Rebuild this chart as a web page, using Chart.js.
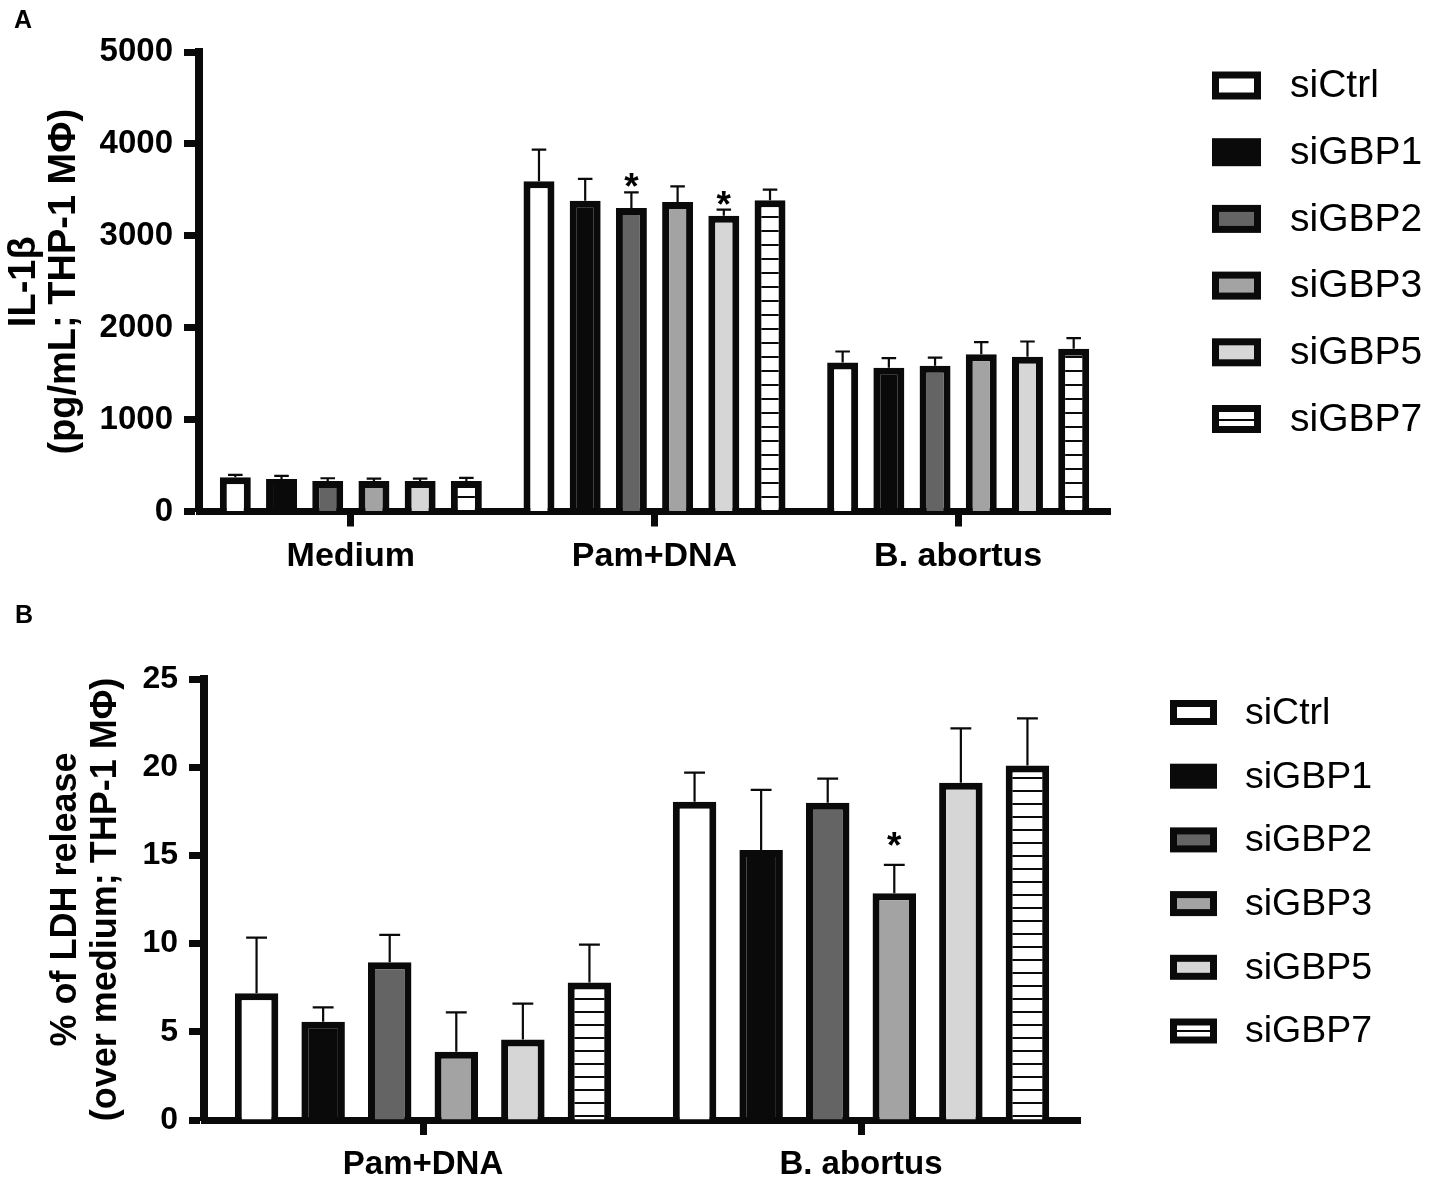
<!DOCTYPE html>
<html>
<head>
<meta charset="utf-8">
<title>IL-1β and LDH release</title>
<script src="https://cdn.jsdelivr.net/npm/chart.js@4.4.0/dist/chart.umd.min.js"></script>
<style>
  body { margin: 0; background: #fff; }
  .panel { position: absolute; left: 0; width: 1429px; }
  .tag { position: absolute; font: bold 25px 'Liberation Sans', Arial, sans-serif; color: #000; z-index: 2; }
</style>
</head>
<body>
<div class="panel" style="top:0;height:590px"><canvas id="chartA" width="1429" height="590"></canvas></div>
<div class="panel" style="top:590px;height:587px"><canvas id="chartB" width="1429" height="587"></canvas></div>
<div class="tag" style="left:14px;top:5px">A</div>
<div class="tag" style="left:15px;top:600px">B</div>
<script>
const seriesNames = ['siCtrl', 'siGBP1', 'siGBP2', 'siGBP3', 'siGBP5', 'siGBP7'];

// panel A - IL-1b (pg/mL)
const categoriesA = ['Medium', 'Pam+DNA', 'B. abortus'];
const ticksA = [0, 1000, 2000, 3000, 4000, 5000];
const ctrlA = [373, 3593, 1621];
const gbp1A = [354, 3382, 1563];
const gbp2A = [332, 3303, 1585];
const gbp3A = [332, 3368, 1712];
const gbp5A = [332, 3219, 1683];
const gbp7A = [332, 3386, 1770];
const ctrlErrA = [25, 345, 120];
const gbp1ErrA = [33, 237, 106];
const gbp2ErrA = [30, 170, 90];
const gbp3ErrA = [25, 170, 131];
const gbp5ErrA = [25, 65, 167];
const gbp7ErrA = [33, 116, 117];
const starsA = [[1, 2], [1, 4]]; // [category, series]

// panel B - % LDH release
const categoriesB = ['Pam+DNA', 'B. abortus'];
const ticksB = [0, 5, 10, 15, 20, 25];
const ctrlB = [7.18, 18.04];
const gbp1B = [5.57, 15.31];
const gbp2B = [8.94, 17.99];
const gbp3B = [3.87, 12.85];
const gbp5B = [4.57, 19.12];
const gbp7B = [7.8, 20.09];
const ctrlErrB = [3.16, 1.65];
const gbp1ErrB = [0.82, 3.4];
const gbp2ErrB = [1.56, 1.36];
const gbp3ErrB = [2.23, 1.61];
const gbp5ErrB = [2.03, 3.08];
const gbp7ErrB = [2.14, 2.68];
const starsB = [[1, 3]];

const ink = '#0a0a0a';
const fills = ['#ffffff', '#0a0a0a', '#646464', '#a3a3a3', '#d6d6d6', null];
Chart.defaults.font.family = "'Liberation Sans', Arial, sans-serif";
Chart.defaults.color = '#000';

function makeStripes(period) {
  const c = document.createElement('canvas');
  c.width = 8;
  c.height = period;
  const g = c.getContext('2d');
  g.fillStyle = '#fff';
  g.fillRect(0, 0, 8, period);
  g.fillStyle = ink;
  g.fillRect(0, Math.floor(period / 2) - 1, 8, 2);
  return g.createPattern(c, 'repeat');
}

function buildSets(values, errors, stripes) {
  return seriesNames.map((name, i) => ({
    label: name,
    data: values[i],
    errors: errors[i],
    backgroundColor: i === 5 ? stripes : fills[i],
    borderColor: ink,
    borderWidth: 7,
    borderSkipped: 'start'
  }));
}

// error bars, asterisks and the legend
const extras = {
  id: 'extras',
  afterDatasetsDraw(chart, args, opts) {
    const {ctx} = chart;
    const y = chart.scales.y;
    ctx.save();
    ctx.strokeStyle = ink;
    ctx.lineWidth = opts.errWidth;
    chart.data.datasets.forEach((ds, i) => {
      chart.getDatasetMeta(i).data.forEach((bar, j) => {
        const top = y.getPixelForValue(ds.data[j] + ds.errors[j]);
        const half = bar.width * opts.capRatio / 2;
        ctx.beginPath();
        ctx.moveTo(bar.x, bar.y);
        ctx.lineTo(bar.x, top);
        ctx.moveTo(bar.x - half, top);
        ctx.lineTo(bar.x + half, top);
        ctx.stroke();
      });
    });
    ctx.fillStyle = '#000';
    ctx.font = 'bold 37px "Liberation Sans", Arial, sans-serif';
    ctx.textAlign = 'center';
    ctx.textBaseline = 'alphabetic';
    opts.stars.forEach(([c, s]) => {
      const ds = chart.data.datasets[s];
      const bar = chart.getDatasetMeta(s).data[c];
      const top = y.getPixelForValue(ds.data[c] + ds.errors[c]);
      ctx.fillText('*', bar.x, top - opts.starGap + 21);
    });
    ctx.restore();
  },
  afterDraw(chart, args, opts) {
    const {ctx} = chart;
    const lg = opts.legend;
    ctx.save();
    ctx.font = lg.size + 'px "Liberation Sans", Arial, sans-serif';
    ctx.textBaseline = 'middle';
    ctx.textAlign = 'left';
    chart.data.datasets.forEach((ds, i) => {
      const cy = lg.y + i * lg.step;
      const top = cy - lg.boxH / 2;
      ctx.fillStyle = ink;
      ctx.fillRect(lg.x, top, lg.boxW, lg.boxH);
      const fill = ds.backgroundColor;
      if (fill instanceof CanvasPattern) {
        fill.setTransform(new DOMMatrix([1, 0, 0, 1, 0, Math.round(cy) - 6]));
      }
      ctx.fillStyle = fill;
      ctx.fillRect(lg.x + lg.border, top + lg.border, lg.boxW - 2 * lg.border, lg.boxH - 2 * lg.border);
      if (fill instanceof CanvasPattern) fill.setTransform(new DOMMatrix());
      ctx.fillStyle = '#000';
      ctx.fillText(ds.label, lg.x + lg.boxW + lg.gap, cy + 1);
    });
    ctx.restore();
  }
};

function axisOptions(o) {
  return {
    x: {
      z: 1,
      grid: {drawOnChartArea: false, offset: false, tickLength: 15, tickWidth: 7, tickColor: ink},
      border: {width: 7, color: ink},
      ticks: {font: {size: o.xFont, weight: 'bold'}, padding: 10, maxRotation: 0},
      afterFit: s => { s.height = o.xHeight; }
    },
    y: {
      min: o.ticks[0],
      max: o.ticks[o.ticks.length - 1],
      afterBuildTicks: s => { s.ticks = o.ticks.map(v => ({value: v})); },
      grid: {drawOnChartArea: false, tickLength: 15, tickWidth: 7, tickColor: ink},
      border: {width: 8, color: ink},
      ticks: {font: {size: o.yFont, weight: 'bold'}, padding: 11, callback: v => String(v)},
      title: {
        display: true,
        text: o.title,
        font: {size: o.titleFont, weight: 'bold', lineHeight: '40px'},
        padding: 0
      },
      afterFit: s => { s.width = o.yWidth; }
    }
  };
}

const chartA = new Chart(document.getElementById('chartA').getContext('2d'), {
  type: 'bar',
  data: {
    labels: categoriesA,
    datasets: buildSets([ctrlA, gbp1A, gbp2A, gbp3A, gbp5A, gbp7A],
      [ctrlErrA, gbp1ErrA, gbp2ErrA, gbp3ErrA, gbp5ErrA, gbp7ErrA], makeStripes(14))
  },
  options: {
    responsive: false,
    animation: false,
    devicePixelRatio: 1,
    layout: {padding: {left: 5, top: 52, right: 319, bottom: 0}},
    datasets: {bar: {categoryPercentage: 0.913, barPercentage: 0.67}},
    scales: axisOptions({
      ticks: ticksA, xFont: 34, yFont: 33, xHeight: 78.5, yWidth: 194,
      title: ['IL-1β', '(pg/mL; THP-1 MΦ)'], titleFont: 38
    }),
    plugins: {
      legend: {display: false},
      tooltip: {enabled: false},
      extras: {
        errWidth: 2.2, capRatio: 0.47, stars: starsA, starGap: 14,
        legend: {x: 1212, y: 85.5, step: 66.7, boxW: 49, boxH: 28, border: 7, gap: 29, size: 39}
      }
    }
  },
  plugins: [extras]
});

const chartB = new Chart(document.getElementById('chartB').getContext('2d'), {
  type: 'bar',
  data: {
    labels: categoriesB,
    datasets: buildSets([ctrlB, gbp1B, gbp2B, gbp3B, gbp5B, gbp7B],
      [ctrlErrB, gbp1ErrB, gbp2ErrB, gbp3ErrB, gbp5ErrB, gbp7ErrB], makeStripes(13))
  },
  options: {
    responsive: false,
    animation: false,
    devicePixelRatio: 1,
    layout: {padding: {left: 46, top: 89, right: 349, bottom: 0}},
    datasets: {bar: {categoryPercentage: 0.912, barPercentage: 0.653}},
    scales: axisOptions({
      ticks: ticksB, xFont: 33, yFont: 32, xHeight: 57, yWidth: 158,
      title: ['% of LDH release', '(over medium; THP-1 MΦ)'], titleFont: 36
    }),
    plugins: {
      legend: {display: false},
      tooltip: {enabled: false},
      extras: {
        errWidth: 2.2, capRatio: 0.48, stars: starsB, starGap: 28,
        legend: {x: 1170, y: 122.5, step: 63.7, boxW: 47, boxH: 25, border: 7, gap: 28, size: 37.5}
      }
    }
  },
  plugins: [extras]
});
</script>
</body>
</html>
